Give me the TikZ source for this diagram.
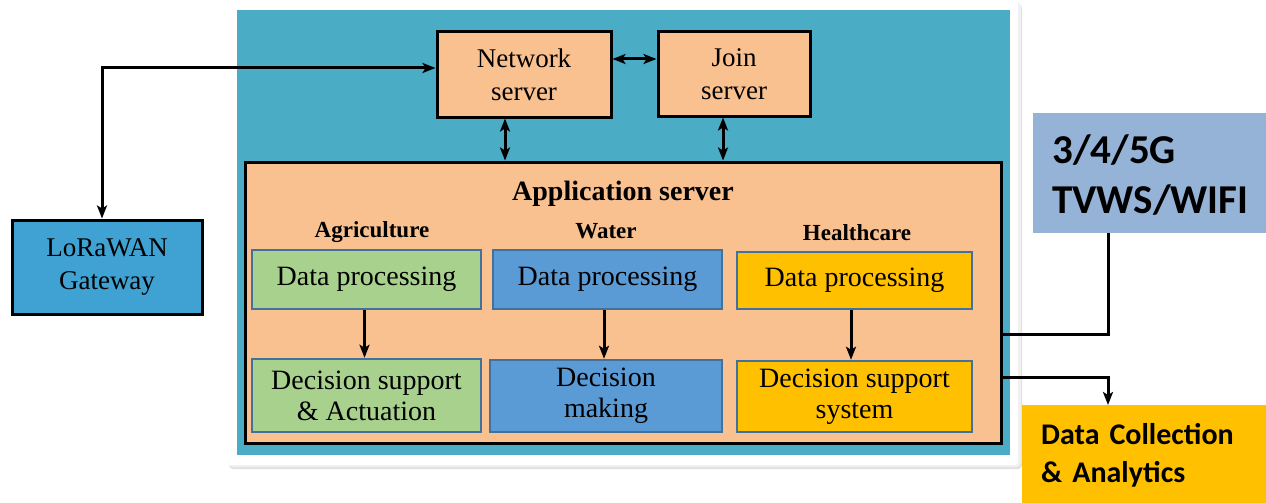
\documentclass[tikz,border=0pt]{standalone}
\usepackage{fontspec}
\setmainfont{Liberation Serif}
\newfontfamily\calib{Carlito}
\usetikzlibrary{arrows.meta,calc}
\definecolor{tealbg}{HTML}{4BACC6}
\definecolor{peach}{HTML}{F9C090}
\definecolor{agrgreen}{HTML}{A9D18E}
\definecolor{watblue}{HTML}{5B9BD5}
\definecolor{hcyellow}{HTML}{FFC000}
\definecolor{innerborder}{HTML}{41719C}
\definecolor{loraBlue}{HTML}{40A2D2}
\definecolor{netBlue}{HTML}{95B3D7}
\begin{document}
\begin{tikzpicture}[x=1pt,y=-1pt,
  outerbox/.style={draw=black,line width=3pt,inner sep=0pt,align=center,
    font=\fontsize{27}{33}\selectfont},
  innerbox/.style={draw=innerborder,line width=2.5pt,inner sep=0pt,align=center,
    minimum width=229pt,font=\fontsize{28}{31}\selectfont},
  grouplabel/.style={font=\fontsize{23}{24}\selectfont\bfseries},
  conn/.style={line width=3pt,draw=black},
  tip/.style={-{Stealth[length=13pt,width=10pt,inset=3pt]}},
  dtip/.style={{Stealth[length=13pt,width=10pt,inset=3pt]}-{Stealth[length=13pt,width=10pt,inset=3pt]}},
  sidebox/.style={inner sep=0pt,anchor=north west,text=black}
]
\useasboundingbox (0,0) rectangle (1266,503);
\fill[white] (0,0) rectangle (1266,503);
% frame shadow and white frame
\fill[black!12,rounded corners=4pt] (229,4) rectangle (1022,469);
\fill[black!6,rounded corners=4pt] (228,2) rectangle (1021,467);
\fill[white,rounded corners=3pt] (226,0) rectangle (1018,465);
\fill[tealbg] (237,10) rectangle (1010,455);

% top servers
\node[outerbox,fill=peach,minimum width=174pt,minimum height=85pt] (net) at (524,74.5) {Network\\server};
\node[outerbox,fill=peach,minimum width=152pt,minimum height=84pt] (join) at (734,74) {Join\\server};

% application server
\node[outerbox,fill=peach,minimum width=756pt,minimum height=281pt] (app) at (623,302.5) {};
\node[font=\fontsize{28}{30}\selectfont\bfseries] (apptitle) at (623,194) {Application server};
\node[grouplabel] (agr) at (372,232) {Agriculture};
\node[grouplabel] (wat) at (606,231) {Water};
\node[grouplabel] (hc) at (857,233) {Healthcare};

\node[innerbox,fill=agrgreen,minimum height=59pt] (gdp) at (366.5,279.5) {Data processing};
\node[innerbox,fill=agrgreen,minimum height=73pt] (gds) at (366.5,395.5) {Decision support\\\& Actuation};
\node[innerbox,fill=watblue,minimum height=59pt] (bdp) at (607.5,279.5) {Data processing};
\node[innerbox,fill=watblue,minimum width=232pt,minimum height=72pt] (bdm) at (606,396) {Decision\\making};
\node[innerbox,fill=hcyellow,minimum width=235pt,minimum height=57pt] (ydp) at (854.5,280.5) {Data processing};
\node[innerbox,fill=hcyellow,minimum width=235pt,minimum height=71pt] (yds) at (854.5,396.5) {Decision support\\system};

% LoRaWAN gateway
\node[outerbox,fill=loraBlue,minimum width=190pt,minimum height=94pt] (lora) at (107,267) {LoRaWAN\\Gateway};

% right side boxes
\fill[netBlue] (1033,113) rectangle (1266,233);
\node[sidebox,text width=220pt,align=left,font=\calib\fontsize{41}{50}\selectfont\bfseries] (tvwslabel) at (1052,135) {3/4/5G\\TVWS/WIFI};
\coordinate (tvws) at (1108,233);
\fill[hcyellow] (1022,405) rectangle (1266,503);
\node[sidebox,text width=230pt,align=left,font=\calib\fontsize{30}{38}\selectfont\bfseries] (dclabel) at (1041,423) {Data Collection\\\& Analytics};
\coordinate (dc) at (1108,405);

% connectors
\coordinate (c1) at (102,68);
\draw[conn,dtip] (lora.north -| c1) -- (c1) -- (net.west |- c1);
\coordinate (y1) at (0,59);
\draw[conn,dtip] (net.east |- y1) -- (join.west |- y1);
\coordinate (x1) at (505,0);
\draw[conn,dtip] (net.south -| x1) -- (app.north -| x1);
\coordinate (x2) at (723,0);
\draw[conn,dtip] (join.south -| x2) -- (app.north -| x2);

\coordinate (xg) at (364.5,0);
\draw[conn,tip] (gdp.south -| xg) -- (gds.north -| xg);
\coordinate (xb) at (604,0);
\draw[conn,tip] (bdp.south -| xb) -- (bdm.north -| xb);
\coordinate (xy) at (851,0);
\draw[conn,tip] (ydp.south -| xy) -- (yds.north -| xy);

\coordinate (r1) at (1108,334);
\draw[conn] (app.east |- r1) -- (r1) -- (tvws);
\coordinate (r2) at (1108,377);
\draw[conn,tip] (app.east |- r2) -- (r2) -- (dc);
\end{tikzpicture}
\end{document}
